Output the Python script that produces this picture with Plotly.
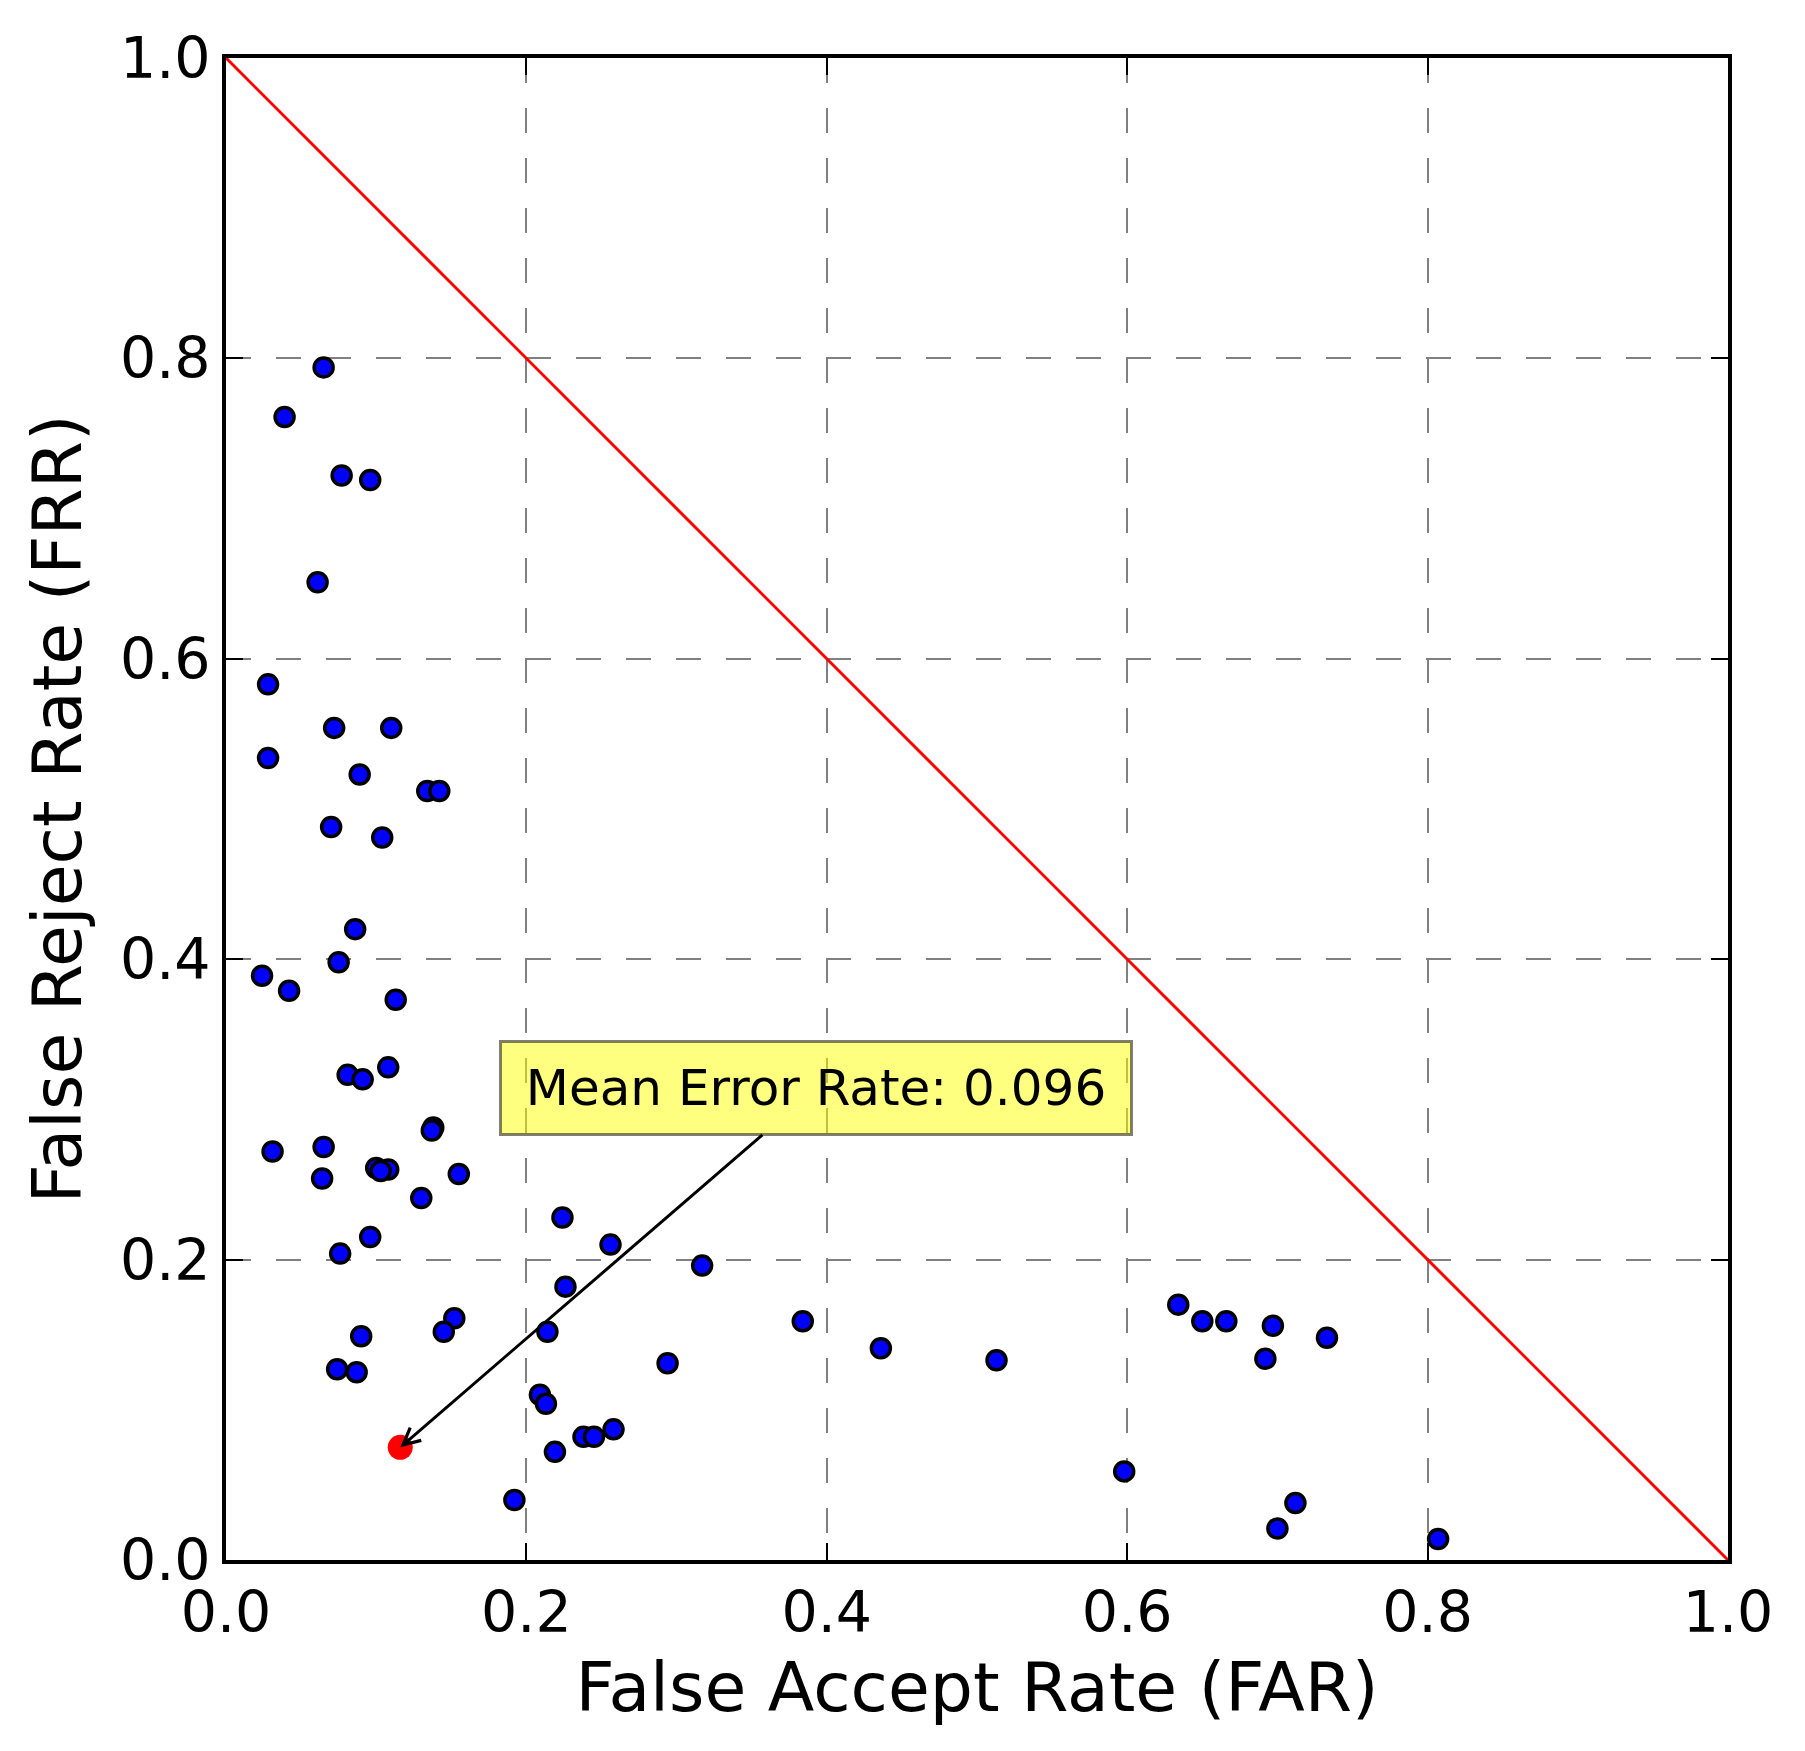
import plotly.graph_objects as go

# per-user error rates (FAR, FRR)
far = [0.065, 0.039, 0.077, 0.096, 0.061, 0.028, 0.028, 0.072, 0.110, 0.089,
       0.134, 0.142, 0.070, 0.104, 0.086, 0.075, 0.024, 0.042, 0.113, 0.108,
       0.081, 0.091, 0.138, 0.137, 0.031, 0.065, 0.064, 0.100, 0.108, 0.103,
       0.155, 0.130, 0.096, 0.076, 0.224, 0.256, 0.226, 0.317, 0.152, 0.145,
       0.214, 0.090, 0.074, 0.087, 0.384, 0.436, 0.294, 0.513, 0.209, 0.213,
       0.238, 0.245, 0.258, 0.219, 0.192, 0.598, 0.634, 0.650, 0.666, 0.697,
       0.692, 0.733, 0.712, 0.700, 0.807]
frr = [0.794, 0.761, 0.722, 0.719, 0.651, 0.583, 0.534, 0.554, 0.554, 0.523,
       0.512, 0.512, 0.488, 0.481, 0.420, 0.398, 0.389, 0.379, 0.373, 0.328,
       0.323, 0.320, 0.288, 0.286, 0.272, 0.275, 0.254, 0.261, 0.260, 0.259,
       0.257, 0.241, 0.215, 0.204, 0.228, 0.210, 0.182, 0.196, 0.161, 0.152,
       0.152, 0.149, 0.127, 0.125, 0.159, 0.141, 0.131, 0.133, 0.110, 0.104,
       0.082, 0.082, 0.087, 0.072, 0.040, 0.059, 0.170, 0.159, 0.159, 0.156,
       0.134, 0.148, 0.038, 0.021, 0.014]

mean_far = 0.116
mean_frr = 0.075
mean_err = 0.096

diag_x = [0.0, 1.0]
diag_y = [1.0, 0.0]

FONT = "DejaVu Sans"

fig = go.Figure()
fig.add_trace(go.Scatter(x=diag_x, y=diag_y, mode="lines",
                         line=dict(color="red", width=3), showlegend=False))
fig.add_trace(go.Scatter(x=far, y=frr, mode="markers",
                         marker=dict(color="blue", size=19,
                                     line=dict(color="black", width=3.5)),
                         showlegend=False))
fig.add_trace(go.Scatter(x=[mean_far], y=[mean_frr], mode="markers",
                         marker=dict(color="red", size=25, line=dict(width=0)),
                         showlegend=False))

fig.add_annotation(
    x=mean_far, y=mean_frr, xref="x", yref="y",
    ax=0.393, ay=0.314, axref="x", ayref="y",
    text=f"Mean Error Rate: {mean_err:.3f}",
    showarrow=True, arrowhead=5, arrowsize=1.1, arrowwidth=3, arrowcolor="black",
    font=dict(family=FONT, size=50, color="black"),
    bgcolor="rgba(255,255,0,0.5)", bordercolor="rgba(0,0,0,0.5)",
    borderwidth=3, borderpad=14, width=600, height=62,
)

axis_common = dict(
    range=[0, 1], dtick=0.2, tickformat=".1f",
    showgrid=True, gridcolor="#808080", gridwidth=1.5, griddash="25px,25px",
    zeroline=False, showline=True, linecolor="black", linewidth=4, mirror="ticks",
    ticks="inside", ticklen=17, tickwidth=2, tickcolor="black",
    tickfont=dict(family=FONT, size=57, color="black"),
)

fig.update_xaxes(**axis_common,
                 title=dict(text="False Accept Rate (FAR)",
                            font=dict(family=FONT, size=68, color="black"),
                            standoff=20))
fig.update_yaxes(**axis_common,
                 title=dict(text="False Reject Rate (FRR)",
                            font=dict(family=FONT, size=68, color="black"),
                            standoff=17))

# page body adds an 8px offset, so margins are shifted to compensate
fig.update_layout(
    width=1790, height=1735,
    margin=dict(l=218, r=70, t=50, b=183),
    plot_bgcolor="white", paper_bgcolor="white",
)

fig.write_html("out.html")
